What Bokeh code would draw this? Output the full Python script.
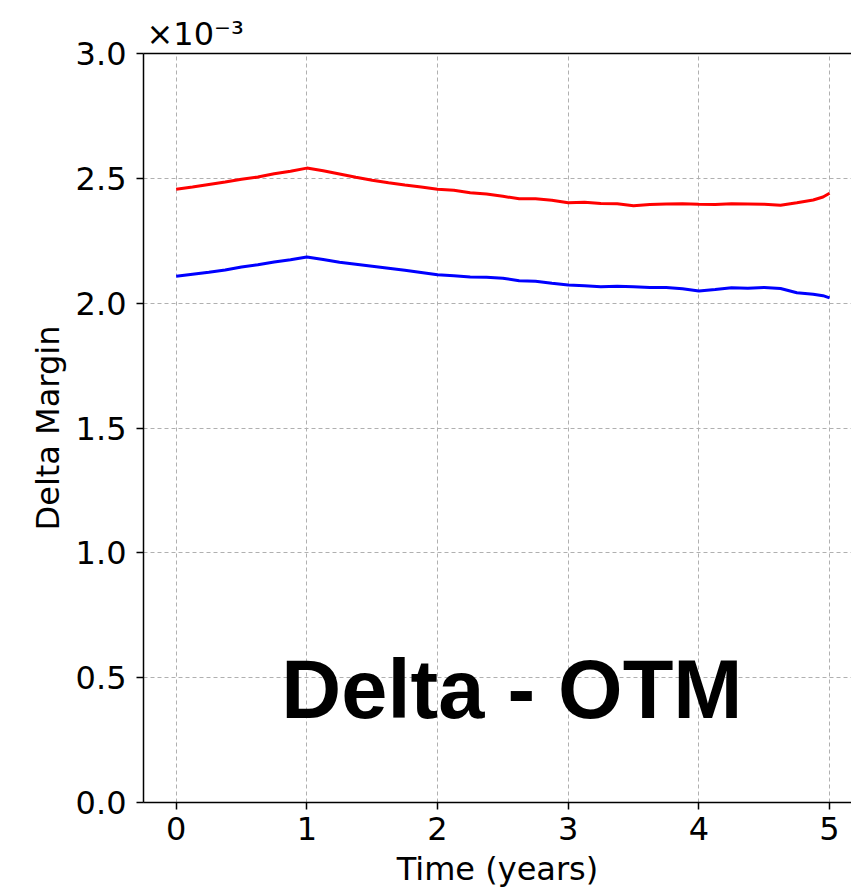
from bokeh.plotting import figure
from bokeh.models import Range1d, FixedTicker, LinearAxis, Label
from bokeh.embed import file_html
from bokeh.resources import INLINE

# Time (years)
t = [0.0, 0.125, 0.25, 0.375, 0.5, 0.625, 0.75, 0.875,
     1.0, 1.125, 1.25, 1.375, 1.5, 1.625, 1.75, 1.875,
     2.0, 2.125, 2.25, 2.375, 2.5, 2.625, 2.75, 2.875,
     3.0, 3.125, 3.25, 3.375, 3.5, 3.625, 3.75, 3.875,
     4.0, 4.125, 4.25, 4.375, 4.5, 4.625, 4.75, 4.875, 4.95, 5.0]

# Delta margin, in units of 1e-3
red_margin = [2.456, 2.465, 2.475, 2.485, 2.496, 2.505, 2.518, 2.528,
              2.541, 2.530, 2.517, 2.504, 2.492, 2.482, 2.473, 2.465,
              2.456, 2.452, 2.442, 2.437, 2.428, 2.418, 2.418, 2.412,
              2.402, 2.404, 2.399, 2.398, 2.390, 2.395, 2.397, 2.398,
              2.396, 2.395, 2.398, 2.397, 2.396, 2.392, 2.402, 2.413, 2.425, 2.440]
blue_margin = [2.108, 2.116, 2.124, 2.133, 2.145, 2.154, 2.165, 2.174,
               2.185, 2.175, 2.164, 2.156, 2.148, 2.140, 2.132, 2.123,
               2.114, 2.110, 2.105, 2.104, 2.100, 2.090, 2.088, 2.080,
               2.073, 2.070, 2.066, 2.068, 2.066, 2.063, 2.063, 2.058,
               2.049, 2.055, 2.062, 2.060, 2.063, 2.059, 2.042, 2.036, 2.030, 2.021]

x_ticks = [0, 1, 2, 3, 4, 5]
y_ticks = [0.0, 0.5, 1.0, 1.5, 2.0, 2.5, 3.0]
y_tick_labels = ["0.0", "0.5", "1.0", "1.5", "2.0", "2.5", "3.0"]

FONT = "DejaVu Sans"
FS = "32px"
W, H = 851, 890

p = figure(width=W, height=H, output_backend="svg", toolbar_location=None,
           x_range=Range1d(-0.25, 5.168), y_range=Range1d(0.0, 3.0),
           min_border_left=143, min_border_top=53, min_border_bottom=87,
           min_border_right=0)
p.outline_line_color = None
p.background_fill_color = "white"
p.border_fill_color = "white"

# offset text of the y axis as the title
p.title.text = "\u00d710\u207b\u00b3"
p.title.align = "left"
p.title.offset = 3
p.title.standoff = 2
p.title.text_font = FONT
p.title.text_font_size = FS
p.title.text_font_style = "normal"
p.title.text_color = "black"

p.line(t, red_margin, line_color="#ff0000", line_width=3)
p.line(t, blue_margin, line_color="#0000ff", line_width=3)

for ax in (p.xaxis[0], p.yaxis[0]):
    ax.axis_line_color = "black"
    ax.axis_line_width = 1.5
    ax.major_tick_line_color = "black"
    ax.major_tick_line_width = 1.5
    ax.major_tick_out = 7
    ax.major_tick_in = 0
    ax.minor_tick_line_color = None
    ax.major_label_text_font = FONT
    ax.major_label_text_font_size = FS
    ax.major_label_text_color = "black"
    ax.axis_label_text_font = FONT
    ax.axis_label_text_font_size = FS
    ax.axis_label_text_font_style = "normal"
    ax.axis_label_text_color = "black"

p.xaxis[0].ticker = FixedTicker(ticks=x_ticks)
p.yaxis[0].ticker = FixedTicker(ticks=y_ticks)
p.yaxis[0].major_label_overrides = {v: s for v, s in zip(y_ticks, y_tick_labels)}
p.xaxis[0].axis_label = "Time (years)"
p.yaxis[0].axis_label = "Delta Margin"
p.xaxis[0].major_label_standoff = 7
p.yaxis[0].major_label_standoff = 10
p.xaxis[0].axis_label_standoff = 7
p.yaxis[0].axis_label_standoff = 6

# top spine only (no right spine: the frame runs to the picture's edge)
top = LinearAxis(ticker=FixedTicker(ticks=[]), major_label_text_font_size="0px",
                 axis_line_color="black", axis_line_width=1.5,
                 major_tick_line_color=None, minor_tick_line_color=None,
                 major_tick_out=0, major_label_standoff=0)
p.add_layout(top, "above")

for g in (p.xgrid[0], p.ygrid[0]):
    g.grid_line_color = "#b0b0b0"
    g.grid_line_width = 1
    g.grid_line_dash = "4 3"
p.xgrid[0].ticker = FixedTicker(ticks=x_ticks)
p.ygrid[0].ticker = FixedTicker(ticks=y_ticks)

p.add_layout(Label(x=0.805, y=0.452, text="Delta - OTM", text_font="Liberation Sans",
                   text_font_style="bold", text_font_size="83px", text_color="black",
                   text_baseline="alphabetic"))

open("out.html", "w").write(file_html(p, INLINE))
